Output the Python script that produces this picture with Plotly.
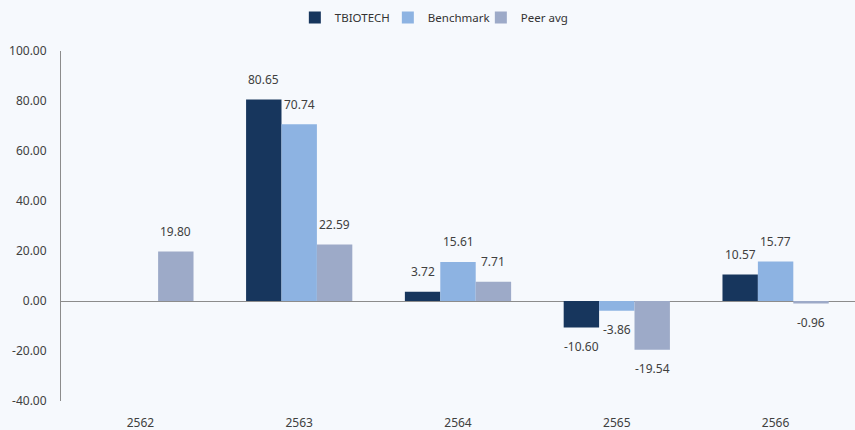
import plotly.graph_objects as go

years = ["2562", "2563", "2564", "2565", "2566"]
tbiotech = [None, 80.65, 3.72, -10.60, 10.57]
benchmark = [None, 70.74, 15.61, -3.86, 15.77]
peer_avg = [19.80, 22.59, 7.71, -19.54, -0.96]
series_names = ["TBIOTECH", "Benchmark", "Peer avg"]
colors = ["#17365D", "#8DB3E2", "#9DAAC8"]
y_ticks = [-40, -20, 0, 20, 40, 60, 80, 100]

xs = list(range(len(years)))
w = 0.223
offsets = [-1.5 * w, -0.5 * w, 0.5 * w]

fig = go.Figure()
annotations = []
for name, vals, col, off in zip(series_names, [tbiotech, benchmark, peer_avg], colors, offsets):
    fig.add_trace(go.Bar(
        x=xs, y=vals, name=name, marker=dict(color=col, line=dict(width=0)),
        width=w, offset=off,
    ))
    for xi, v in zip(xs, vals):
        if v is None:
            continue
        annotations.append(dict(
            x=xi + off + w / 2, y=v, xref="x", yref="y",
            text=f"{v:.2f}", showarrow=False,
            yshift=20 if v >= 0 else -19,
            font=dict(size=12, color="#404040", family="Noto Sans"),
        ))

fig.update_layout(
    width=855, height=430,
    margin=dict(l=61, r=0, t=51, b=29),
    paper_bgcolor="#F6F9FD", plot_bgcolor="#F6F9FD",
    barmode="overlay",
    font=dict(family="Noto Sans", size=12, color="#404040"),
    showlegend=True,
    legend=dict(orientation="h", x=0.508, xanchor="center", xref="container",
                y=0.993, yanchor="top", yref="container",
                font=dict(size=11.5, color="#333333"),
                itemwidth=30, traceorder="normal",
                entrywidth=48, entrywidthmode="pixels"),
    annotations=annotations,
)
fig.update_xaxes(
    range=[-0.5, len(years) - 0.5], tickmode="array", tickvals=xs, ticktext=years,
    showgrid=False, zeroline=False, showline=False, ticks="",
    ticklabelstandoff=13, tickfont=dict(size=12, color="#404040"), automargin=False,
)
fig.update_yaxes(
    range=[-40, 100], tickmode="array", tickvals=y_ticks,
    ticktext=[f"{t:.2f}" for t in y_ticks],
    showgrid=False, zeroline=True, zerolinecolor="#8C8C8C", zerolinewidth=1,
    showline=True, linecolor="#8C8C8C", linewidth=1, ticks="",
    ticklabelstandoff=11, tickfont=dict(size=12, color="#404040"), automargin=False,
)
fig.write_html("out.html", config={"displayModeBar": False},
               post_script="document.body.style.margin='0';")
